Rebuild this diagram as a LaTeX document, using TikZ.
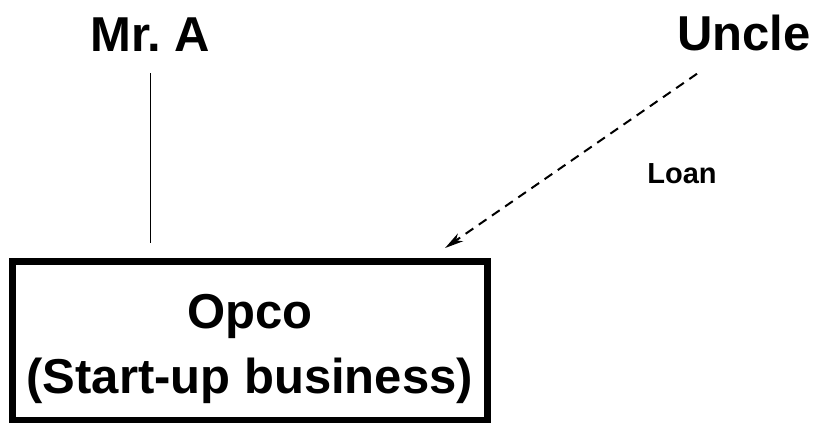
\documentclass[tikz,border=0pt]{standalone}
\usepackage{fontspec}
\setmainfont{Liberation Sans}
\usepackage{tikz}
\usetikzlibrary{arrows.meta,positioning,calc}
\frenchspacing
\tikzstyle{PARTY} = [font=\fontsize{36.75}{44}\selectfont\bfseries, inner sep=0pt, anchor=base]
\tikzstyle{COMPANY} = [rectangle, draw, line width=5.25pt, align=center, inner sep=0pt, minimum width=355.9pt, minimum height=119.6pt, font=\fontsize{36.75}{48.75}\selectfont\bfseries]
\tikzstyle{LABEL} = [font=\fontsize{21.75}{26}\selectfont\bfseries, inner sep=0pt, anchor=base]
\tikzstyle{SHARES} = [draw, line width=0.8pt, shorten <=16.5pt, shorten >=11.25pt]
\tikzstyle{LOAN} = [draw, line width=1.5pt, dash pattern=on 7pt off 5pt, -{Stealth[length=14pt,width=7pt,inset=4pt]}]

\begin{document}
\begin{tikzpicture}[x=0.75pt, y=-0.75pt]
\useasboundingbox (0,0) rectangle (821,422);
% Place nodes
\node [PARTY] (mrA) at (150.5,51) {Mr.\ A};
\node [PARTY] (uncle) at (744,50) {Uncle};
\node [COMPANY] (opco) at (249.75,341.25) {\rule{0pt}{36.6pt}Opco\\(Start-up business)};
\node [LABEL] (loan) at (682,183) {Loan};
% LINES and ARROWS
\path [SHARES] (mrA.south) -- (mrA.south |- opco.north);
\path [LOAN] ([xshift=-35.25pt,yshift=-17.25pt]uncle.south) -- ([xshift=-34.1pt,yshift=7.5pt]opco.north east);
\end{tikzpicture}
\end{document}
